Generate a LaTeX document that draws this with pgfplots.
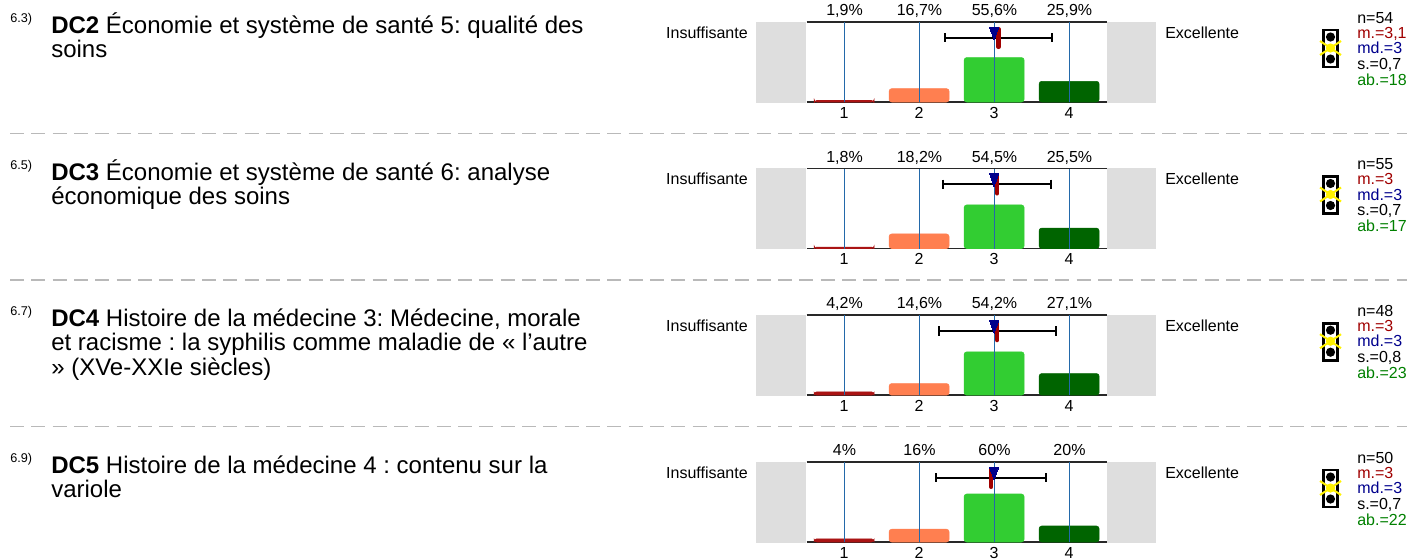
\documentclass[border=0pt]{standalone}
\usepackage{pgfplots}
\pgfplotsset{compat=1.18}
\usepackage{fontspec}
\setmainfont{Liberation Sans}
\frenchspacing
\definecolor{cOne}{RGB}{170,20,20}
\definecolor{cTwo}{RGB}{255,127,80}
\definecolor{cThree}{RGB}{50,205,50}
\definecolor{cFour}{RGB}{0,100,0}
\definecolor{gridb}{RGB}{35,105,170}
\definecolor{axl}{RGB}{40,40,40}
\definecolor{sidegray}{RGB}{222,222,222}
\definecolor{redt}{RGB}{160,0,0}
\definecolor{bluet}{RGB}{0,0,140}
\definecolor{greent}{RGB}{0,128,0}
\pgfplotsset{
 rowaxis/.style={
  anchor=north west, scale only axis, width=225pt, height=60pt,
  xmin=0.5, xmax=4.5, ymin=0, ymax=100,
  y coord trafo/.code={\pgfmathparse{##1+5}},
  xtick={1,2,3,4}, ytick=\empty,
  xticklabel style={font=\fontsize{12}{12}\selectfont, text height=8.6pt, text depth=0pt, yshift=0pt},
  /pgf/number format/assume math mode=true,
  separate axis lines,
  y axis line style={draw=none},
  x axis line style={draw=axl, line width=1.1pt},
  major tick length=0pt,
  axis background/.style={fill=white},
 },
 bar/.style={ybar, bar shift=0pt, bar width=0.8, draw=#1, fill=#1, rounded corners=2pt, forget plot},
 gl/.style={gridb, line width=0.75pt, forget plot},
 whisk/.style={black, line width=1.5pt, mark=|, mark size=3.5pt, mark options={line width=1.4pt, solid}, forget plot},
 meanb/.style={redt, line width=3.4pt, line cap=round, forget plot},
 medm/.style={only marks, mark=triangle*, mark size=4pt, mark options={fill=bluet, draw=bluet, rotate=180, yscale=1.6, line width=0pt}, forget plot},
}
\newcommand\gridl{%
 \addplot[gl] coordinates {(1,0)(1,100)};
 \addplot[gl] coordinates {(2,0)(2,100)};
 \addplot[gl] coordinates {(3,0)(3,100)};
 \addplot[gl] coordinates {(4,0)(4,100)};}
\newcommand\titlefont{\fontsize{18}{18}\selectfont}
\newcommand\rowdecor[9]{%
 \fill[sidegray] (756,#1-0.5) rectangle (806,#1+80.5);
 \fill[sidegray] (1106,#1-0.5) rectangle (1156,#1+80.5);
 \node[anchor=base,font=\fontsize{12}{12}\selectfont] at (844.5,#1-6.5) {#3};
 \node[anchor=base,font=\fontsize{12}{12}\selectfont] at (919.5,#1-6.5) {#4};
 \node[anchor=base,font=\fontsize{12}{12}\selectfont] at (994.5,#1-6.5) {#5};
 \node[anchor=base,font=\fontsize{12}{12}\selectfont] at (1069.5,#1-6.5) {#6};
 \node[anchor=base east,inner sep=0pt,font=\fontsize{12}{12}\selectfont] at (748,#1+16) {Insuffisante};
 \node[anchor=base west,inner sep=0pt,font=\fontsize{12}{12}\selectfont] at (1165,#1+16) {Excellente};
 \node[anchor=base west,inner sep=0pt,font=\fontsize{9.5}{9.5}\selectfont] at (10,#1+0.5) {#2};
 \draw[black,line width=2.2pt] (1323.5,#1+8) rectangle (1337.5,#1+45);
 \fill[black] (1330.5,#1+15) circle (4.6);
 \fill[black] (1330.5,#1+37) circle (4.6);
 \draw[yellow,line width=1.5pt] (1320,#1+19) -- (1341,#1+33);
 \draw[yellow,line width=1.5pt] (1320,#1+33) -- (1341,#1+19);
 \fill[yellow] (1330.5,#1+26) circle (4.6);
 \node[anchor=base west,inner sep=0pt,font=\fontsize{12}{12}\selectfont] at (1357,#1+1) {#7};
 \node[anchor=base west,inner sep=0pt,font=\fontsize{12}{12}\selectfont,text=redt] at (1357,#1+16) {#8};
 \node[anchor=base west,inner sep=0pt,font=\fontsize{12}{12}\selectfont,text=bluet] at (1357,#1+31.5) {md.=3};
 \node[anchor=base west,inner sep=0pt,font=\fontsize{12}{12}\selectfont] at (1357,#1+47) {#9};
}
\begin{document}
\begin{tikzpicture}
\path[use as bounding box] (0,0) rectangle (1407*0.75pt,-558*0.75pt);
\begin{scope}[x=0.75pt,y=-0.75pt]
 \foreach \yy in {133.5,280,426.5} \draw[color={rgb,255:red,185;green,185;blue,185},line width=1.1pt,dash pattern=on 10.5pt off 5.5pt] (10,\yy) -- (1407,\yy);
 \rowdecor{22}{6.3)}{1,9\%}{16,7\%}{55,6\%}{25,9\%}{n=54}{m.=3,1}{s.=0,7}
 \node[anchor=base west,inner sep=0pt,font=\fontsize{12}{12}\selectfont,text=greent] at (1357,22+63) {ab.=18};
 \rowdecor{168.5}{6.5)}{1,8\%}{18,2\%}{54,5\%}{25,5\%}{n=55}{m.=3}{s.=0,7}
 \node[anchor=base west,inner sep=0pt,font=\fontsize{12}{12}\selectfont,text=greent] at (1357,168.5+63) {ab.=17};
 \rowdecor{315.2}{6.7)}{4,2\%}{14,6\%}{54,2\%}{27,1\%}{n=48}{m.=3}{s.=0,8}
 \node[anchor=base west,inner sep=0pt,font=\fontsize{12}{12}\selectfont,text=greent] at (1357,315.2+63) {ab.=23};
 \rowdecor{462}{6.9)}{4\%}{16\%}{60\%}{20\%}{n=50}{m.=3}{s.=0,7}
 \node[anchor=base west,inner sep=0pt,font=\fontsize{12}{12}\selectfont,text=greent] at (1357,462+63) {ab.=22};
 \node[anchor=base west,inner sep=0pt,font=\titlefont] at (51,33.5) {\textbf{DC2} Économie et système de santé 5: qualité des};
 \node[anchor=base west,inner sep=0pt,font=\titlefont] at (51,57.8) {soins};
 \node[anchor=base west,inner sep=0pt,font=\titlefont] at (51,180) {\textbf{DC3} Économie et système de santé 6: analyse};
 \node[anchor=base west,inner sep=0pt,font=\titlefont] at (51,204.3) {économique des soins};
 \node[anchor=base west,inner sep=0pt,font=\titlefont] at (51,326.5) {\textbf{DC4} Histoire de la médecine 3: Médecine, morale};
 \node[anchor=base west,inner sep=0pt,font=\titlefont] at (51,350.8) {et racisme : la syphilis comme maladie de « l'autre};
 \node[anchor=base west,inner sep=0pt,font=\titlefont] at (51,375.1) {» (XVe-XXIe siècles)};
 \node[anchor=base west,inner sep=0pt,font=\titlefont] at (51,473) {\textbf{DC5} Histoire de la médecine 4 : contenu sur la};
 \node[anchor=base west,inner sep=0pt,font=\titlefont] at (51,497.3) {variole};
\end{scope}

\begin{axis}[rowaxis, at={(806.6*0.75pt,-22*0.75pt)}]
 \addplot[bar=cOne] coordinates {(1,1.9)};
 \addplot[bar=cTwo] coordinates {(2,16.7)};
 \addplot[bar=cThree] coordinates {(3,55.6)};
 \addplot[bar=cFour] coordinates {(4,25.9)};
 \gridl
 \addplot[whisk] coordinates {(2.347,80.4)(3.773,80.4)};
 \addplot[meanb] coordinates {(3.06,91)(3.06,69)};
 \addplot[medm] coordinates {(3,88.4)};
\end{axis}

\begin{axis}[rowaxis, at={(806.6*0.75pt,-168.5*0.75pt)}]
 \addplot[bar=cOne] coordinates {(1,1.8)};
 \addplot[bar=cTwo] coordinates {(2,18.2)};
 \addplot[bar=cThree] coordinates {(3,54.5)};
 \addplot[bar=cFour] coordinates {(4,25.5)};
 \gridl
 \addplot[whisk] coordinates {(2.316,80.4)(3.76,80.4)};
 \addplot[meanb] coordinates {(3.04,91)(3.04,69)};
 \addplot[medm] coordinates {(3,88.4)};
\end{axis}

\begin{axis}[rowaxis, at={(806.6*0.75pt,-315.2*0.75pt)}]
 \addplot[bar=cOne] coordinates {(1,4.2)};
 \addplot[bar=cTwo] coordinates {(2,14.6)};
 \addplot[bar=cThree] coordinates {(3,54.2)};
 \addplot[bar=cFour] coordinates {(4,27.1)};
 \gridl
 \addplot[whisk] coordinates {(2.27,80.4)(3.83,80.4)};
 \addplot[meanb] coordinates {(3.04,91)(3.04,69)};
 \addplot[medm] coordinates {(3,88.4)};
\end{axis}

\begin{axis}[rowaxis, at={(806.6*0.75pt,-462*0.75pt)}]
 \addplot[bar=cOne] coordinates {(1,4)};
 \addplot[bar=cTwo] coordinates {(2,16)};
 \addplot[bar=cThree] coordinates {(3,60)};
 \addplot[bar=cFour] coordinates {(4,20)};
 \gridl
 \addplot[whisk] coordinates {(2.227,80.4)(3.693,80.4)};
 \addplot[meanb] coordinates {(2.96,91)(2.96,69)};
 \addplot[medm] coordinates {(3,88.4)};
\end{axis}
\end{tikzpicture}
\end{document}
